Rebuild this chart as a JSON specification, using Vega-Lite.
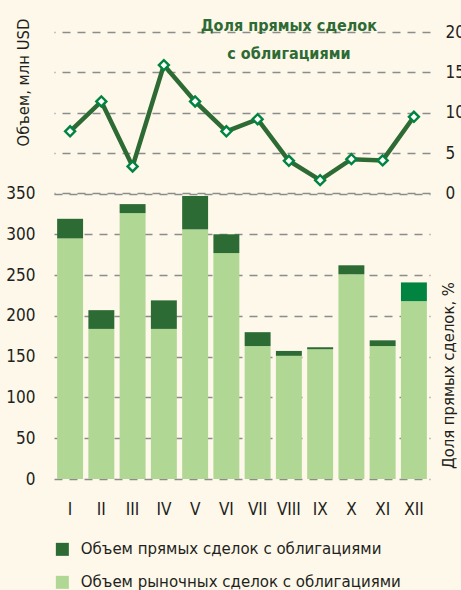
{
  "$schema": "https://vega.github.io/schema/vega-lite/v6.json",
  "autosize": {"type": "none"},
  "padding": {"left": 54, "top": 32, "right": 31, "bottom": 111},
  "width": 376,
  "height": 447,
  "background": "#FDF8EA",
  "config": {
    "font": "DejaVu Sans Condensed, Liberation Sans, sans-serif",
    "view": {"stroke": null},
    "axis": {
      "domain": false,
      "ticks": false,
      "labelFont": "DejaVu Sans Condensed, Liberation Sans, sans-serif",
      "titleFont": "DejaVu Sans Condensed, Liberation Sans, sans-serif",
      "labelFontSize": 17,
      "titleFontSize": 16.5,
      "titleFontWeight": "normal",
      "labelColor": "#231F20",
      "titleColor": "#231F20",
      "gridColor": "#8C8C8C",
      "gridWidth": 1.5,
      "gridDash": [8, 7],
      "gridOpacity": 1
    }
  },
  "datasets": {
    "bars": [
      {"month": "I", "type": "Объем рыночных сделок с облигациями", "value": 295},
      {"month": "I", "type": "Объем прямых сделок с облигациями", "value": 24},
      {"month": "II", "type": "Объем рыночных сделок с облигациями", "value": 184},
      {"month": "II", "type": "Объем прямых сделок с облигациями", "value": 23},
      {"month": "III", "type": "Объем рыночных сделок с облигациями", "value": 326},
      {"month": "III", "type": "Объем прямых сделок с облигациями", "value": 11},
      {"month": "IV", "type": "Объем рыночных сделок с облигациями", "value": 184},
      {"month": "IV", "type": "Объем прямых сделок с облигациями", "value": 35},
      {"month": "V", "type": "Объем рыночных сделок с облигациями", "value": 306},
      {"month": "V", "type": "Объем прямых сделок с облигациями", "value": 41},
      {"month": "VI", "type": "Объем рыночных сделок с облигациями", "value": 277},
      {"month": "VI", "type": "Объем прямых сделок с облигациями", "value": 23},
      {"month": "VII", "type": "Объем рыночных сделок с облигациями", "value": 163},
      {"month": "VII", "type": "Объем прямых сделок с облигациями", "value": 17},
      {"month": "VIII", "type": "Объем рыночных сделок с облигациями", "value": 151},
      {"month": "VIII", "type": "Объем прямых сделок с облигациями", "value": 6},
      {"month": "IX", "type": "Объем рыночных сделок с облигациями", "value": 159},
      {"month": "IX", "type": "Объем прямых сделок с облигациями", "value": 2.5},
      {"month": "X", "type": "Объем рыночных сделок с облигациями", "value": 251},
      {"month": "X", "type": "Объем прямых сделок с облигациями", "value": 11},
      {"month": "XI", "type": "Объем рыночных сделок с облигациями", "value": 163},
      {"month": "XI", "type": "Объем прямых сделок с облигациями", "value": 7},
      {"month": "XII", "type": "Объем рыночных сделок с облигациями", "value": 218},
      {"month": "XII", "type": "Объем прямых сделок с облигациями", "value": 23}
    ],
    "share": [
      {"month": "I", "share": 7.7},
      {"month": "II", "share": 11.4},
      {"month": "III", "share": 3.35},
      {"month": "IV", "share": 15.9},
      {"month": "V", "share": 11.4},
      {"month": "VI", "share": 7.7},
      {"month": "VII", "share": 9.2},
      {"month": "VIII", "share": 4.05},
      {"month": "IX", "share": 1.65},
      {"month": "X", "share": 4.25},
      {"month": "XI", "share": 4.1},
      {"month": "XII", "share": 9.5}
    ],
    "note": [
      {"month": "VIII", "share": 20, "label": ["Доля прямых сделок", "с облигациями"]}
    ]
  },
  "encoding": {
    "x": {
      "field": "month",
      "type": "nominal",
      "sort": ["I", "II", "III", "IV", "V", "VI", "VII", "VIII", "IX", "X", "XI", "XII"],
      "scale": {"paddingInner": 0.17, "paddingOuter": 0.1},
      "axis": {"title": null, "labelAngle": 0, "labelPadding": 22, "grid": false}
    }
  },
  "layer": [
    {
      "data": {"name": "bars"},
      "mark": {"type": "bar"},
      "encoding": {
        "y": {
          "field": "value",
          "type": "quantitative",
          "stack": "zero",
          "scale": {"domain": [0, 548], "nice": false, "zero": true},
          "axis": {
            "values": [0, 50, 100, 150, 200, 250, 300, 350],
            "title": "Объем, млн USD",
            "labelPadding": 19,
            "titleX": -31,
            "titleY": 50,
            "titleAlign": "center",
            "titleBaseline": "middle",
            "titleAngle": 270
          }
        },
        "color": {
          "condition": {
            "test": "datum.month === 'XII' && datum.type === 'Объем прямых сделок с облигациями'",
            "value": "#00843F"
          },
          "field": "type",
          "type": "nominal",
          "scale": {
            "domain": ["Объем прямых сделок с облигациями", "Объем рыночных сделок с облигациями"],
            "range": ["#2D6B35", "#B0D794"]
          },
          "legend": {
            "title": null,
            "orient": "none",
            "legendX": 0,
            "legendY": 509,
            "direction": "vertical",
            "symbolType": "square",
            "symbolSize": 169,
            "symbolStrokeWidth": 0,
            "labelFontSize": 16.7,
            "labelFont": "DejaVu Sans Condensed, Liberation Sans, sans-serif",
            "labelColor": "#231F20",
            "labelOffset": 10,
            "labelLimit": 400,
            "rowPadding": 15
          }
        },
        "order": {"field": "type", "sort": "descending"}
      }
    },
    {
      "encoding": {
        "y": {
          "field": "share",
          "type": "quantitative",
          "scale": {"domain": [-35.36, 20], "nice": false, "zero": false},
          "axis": {
            "orient": "right",
            "grid": true,
            "values": [0, 5, 10, 15, 20],
            "title": "Доля прямых сделок, %",
            "labelPadding": 15,
            "titleX": 18,
            "titleY": 343,
            "titleAlign": "center",
            "titleBaseline": "middle",
            "titleAngle": 270
          }
        }
      },
      "layer": [
        {
          "data": {"name": "share"},
          "mark": {"type": "line", "color": "#2E6B34", "strokeWidth": 4.5}
        },
        {
          "data": {"name": "share"},
          "mark": {"type": "point", "shape": "diamond", "filled": true, "fill": "white", "stroke": "#00843F", "strokeWidth": 2.4, "size": 100, "opacity": 1}
        },
        {
          "data": {"name": "note"},
          "mark": {"type": "text", "align": "center", "baseline": "alphabetic", "dy": -1.5, "lineHeight": 28.6, "fontSize": 16, "fontWeight": "bold", "color": "#2E6B34", "font": "DejaVu Sans Condensed, Liberation Sans, sans-serif"},
          "encoding": {"text": {"field": "label"}}
        }
      ]
    }
  ],
  "resolve": {"scale": {"y": "independent"}}
}
